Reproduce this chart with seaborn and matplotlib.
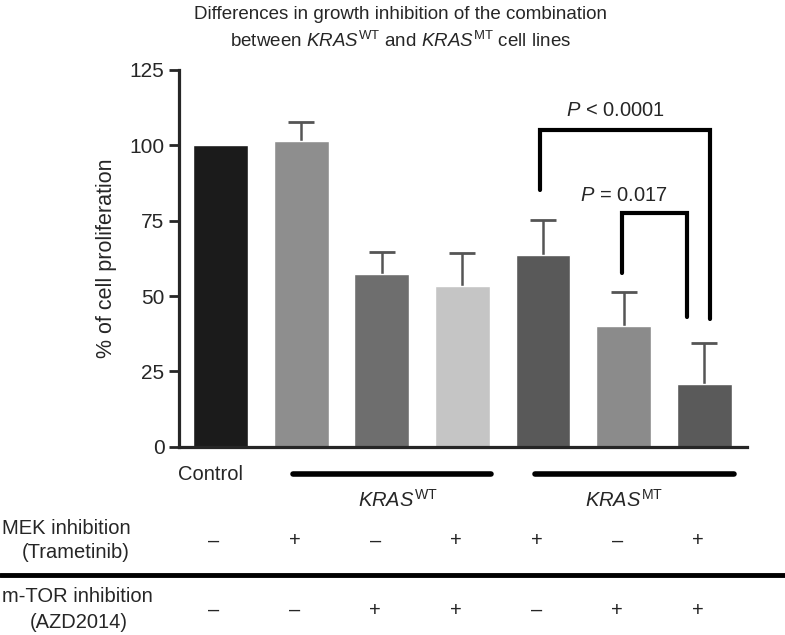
import matplotlib
matplotlib.use("Agg")
import matplotlib.pyplot as plt
import matplotlib.transforms as mtransforms
from matplotlib.lines import Line2D
import seaborn as sns

# --- data ---
groups = ["Control", "WT MEK", "WT mTOR", "WT combo", "MT MEK", "MT mTOR", "MT combo"]
means = [100, 101.3, 57.4, 53.2, 63.7, 39.9, 20.8]
errs = [0, 6.5, 7.2, 11.1, 11.6, 11.3, 13.6]
bar_colors = ["#1b1b1b", "#8e8e8e", "#6e6e6e", "#c5c5c5", "#595959", "#8b8b8b", "#5a5a5a"]
mek_signs = ["–", "+", "–", "+", "+", "–", "+"]
mtor_signs = ["–", "–", "+", "+", "–", "+", "+"]

# significance brackets: x left, x right, top, left leg end, right leg end
br_x = [(3.96, 6.07), (4.98, 5.79)]
br_top = [105, 77.5]
br_ends = [(85.3, 42.3), (57.8, 43.2)]
br_labels = ["$P$ < 0.0001", "$P$ = 0.017"]
br_label_x = [4.9, 5.0]
br_label_y = [111.5, 83.5]

sns.set_style("ticks")
plt.rcParams["font.family"] = ["Liberation Sans", "DejaVu Sans"]
plt.rcParams["mathtext.fontset"] = "custom"
plt.rcParams["mathtext.rm"] = "Liberation Sans"
plt.rcParams["mathtext.it"] = "Liberation Sans:italic"

FS = 14.5

fig = plt.figure(figsize=(7.85, 6.35), dpi=100)
ax = fig.add_axes([0.228, 0.2965, 0.7236, 0.5933])

sns.barplot(x=groups, y=means, hue=groups, palette=bar_colors, legend=False,
            width=0.68, saturation=1, ax=ax, zorder=2)
idx = list(range(1, len(groups)))
eb = ax.errorbar(idx, [means[i] for i in idx],
                 yerr=[[0] * len(idx), [errs[i] for i in idx]],
                 fmt="none", ecolor="#555555", elinewidth=1.8, capsize=9.5,
                 capthick=2, zorder=1)
# keep only the upper caps
eb[1][0].set_visible(False)

ax.set_xlim(-0.515, 6.53)
ax.set_ylim(0, 125)
ax.set_yticks(range(0, 126, 25))
ax.set_xticks([])
ax.set_xlabel("")
ax.set_ylabel("% of cell proliferation", fontsize=15.5, labelpad=9)
ax.tick_params(axis="y", labelsize=15, length=7, width=2, direction="out")
for s in ["left", "bottom"]:
    ax.spines[s].set_linewidth(2.3)
ax.spines[["top", "right"]].set_visible(False)

# brackets
for (xl, xr), top, (el, er), lab, lx, ly in zip(br_x, br_top, br_ends, br_labels,
                                                br_label_x, br_label_y):
    ax.plot([xl, xl, xr, xr], [el, top, top, er], color="black", lw=3,
            solid_joinstyle="miter", clip_on=False)
    ax.text(lx, ly, lab, ha="center", va="center", fontsize=FS)

# title
fig.text(0.51, 0.977, "Differences in growth inhibition of the combination",
         ha="center", va="center", fontsize=13.5)
fig.text(0.51, 0.936, r"between $\it{KRAS}^{\rm WT}$ and $\it{KRAS}^{\rm MT}$ cell lines",
         ha="center", va="center", fontsize=13.5)

# bottom table
tr = mtransforms.blended_transform_factory(ax.transData, fig.transFigure)
fig.text(-0.12, 1 - 474 / 635, "Control", transform=tr, ha="center", va="center",
         fontsize=FS)
for x0, x1 in [(0.9, 3.35), (3.9, 6.37)]:
    fig.add_artist(Line2D([x0, x1], [1 - 474 / 635] * 2, transform=tr,
                          color="black", lw=4, solid_capstyle="round"))
fig.text(2.2, 1 - 500 / 635, r"$\it{KRAS}^{\rm WT}$", transform=tr, ha="center",
         va="center", fontsize=FS)
fig.text(5.0, 1 - 500 / 635, r"$\it{KRAS}^{\rm MT}$", transform=tr, ha="center",
         va="center", fontsize=FS)

fig.text(0.003, 1 - 528 / 635, "MEK inhibition", ha="left", va="center", fontsize=FS)
fig.text(0.097, 1 - 553 / 635, "(Trametinib)", ha="center", va="center", fontsize=FS)
fig.text(0.003, 1 - 597 / 635, "m-TOR inhibition", ha="left", va="center", fontsize=FS)
fig.text(0.1, 1 - 622 / 635, "(AZD2014)", ha="center", va="center", fontsize=FS)
for i in range(len(groups)):
    fig.text(i - 0.08, 1 - 541 / 635, mek_signs[i], transform=tr, ha="center",
             va="center", fontsize=FS)
    fig.text(i - 0.08, 1 - 610 / 635, mtor_signs[i], transform=tr, ha="center",
             va="center", fontsize=FS)
fig.add_artist(Line2D([0, 1], [1 - 575 / 635] * 2, transform=fig.transFigure,
                      color="black", lw=3.5))

fig.savefig("out.png", dpi=100)
